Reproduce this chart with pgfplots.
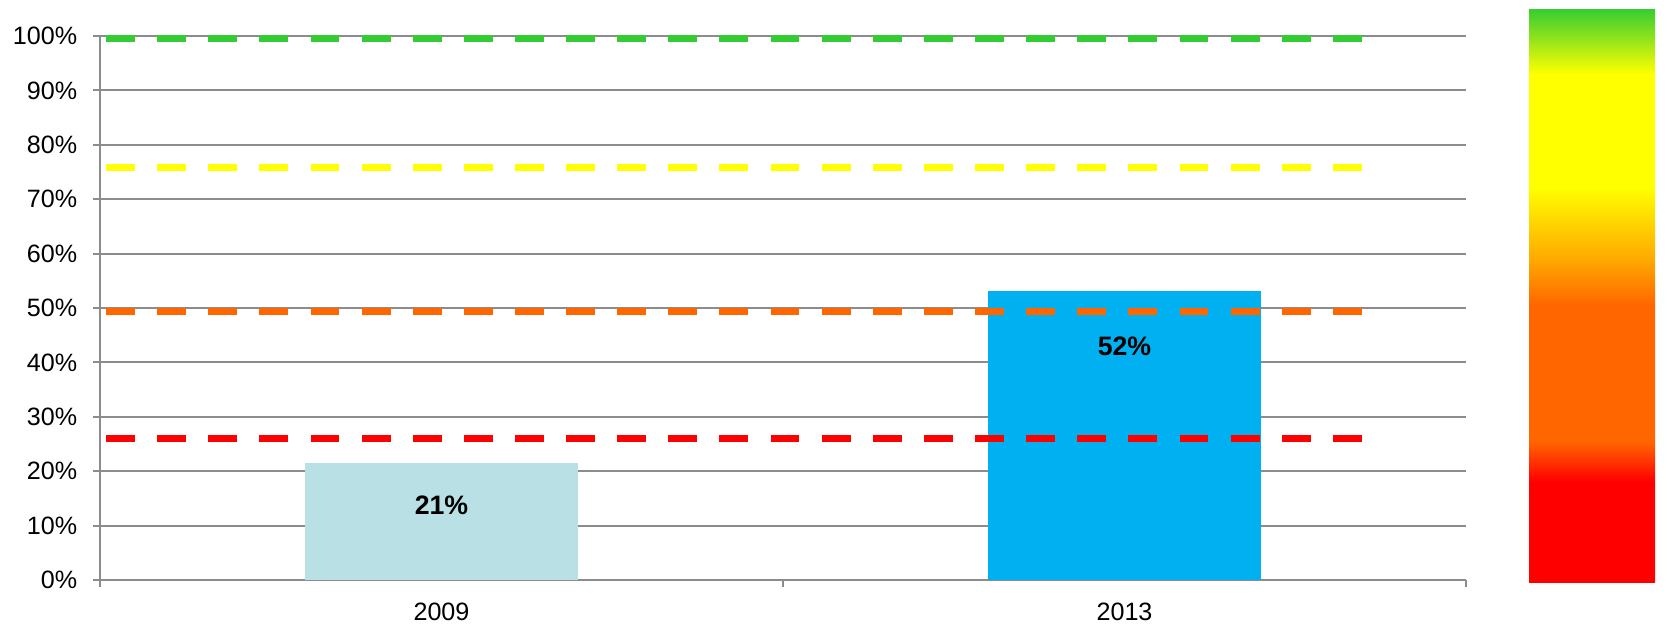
\documentclass[border=0pt]{standalone}
\usepackage{pgfplots}
\pgfplotsset{compat=1.18}
\usepackage{fontspec}
\setmainfont{Liberation Sans}
\definecolor{gridgray}{RGB}{140,140,140}
\definecolor{lgreen}{RGB}{51,204,51}
\definecolor{lyellow}{RGB}{255,255,0}
\definecolor{lorange}{RGB}{255,102,0}
\definecolor{lred}{RGB}{255,0,0}
\definecolor{barA}{RGB}{185,224,228}
\definecolor{barB}{RGB}{0,176,240}
\begin{document}
\begin{tikzpicture}
\begin{axis}[name=main,
  scale only axis, width=614.7pt, height=244.8pt,
  xmin=-0.5, xmax=1.5, ymin=0, ymax=100,
  clip=false,
  axis x line*=bottom, axis y line*=left,
  axis line style={gridgray, line width=0.9pt, -},
  ytick={0,10,...,100},
  yticklabels={0\%,10\%,20\%,30\%,40\%,50\%,60\%,70\%,80\%,90\%,100\%},
  ymajorgrids, grid style={gridgray, line width=0.9pt},
  xtick={-0.5,0.5,1.5}, xticklabels={},
  extra x ticks={0,1}, extra x tick labels={2009,2013},
  extra x tick style={tick style={draw=none}},
  tick align=outside, major tick length=3.15pt,
  tick style={gridgray, line width=0.9pt},
  tick label style={font=\fontsize{11.3}{13.5}\selectfont, black},
  yticklabel style={xshift=-3.6pt},
  xticklabel style={yshift=-3.6pt},
  colormap={traffic}{rgb255(0pt)=(255,0,0) rgb255(175pt)=(255,0,0) rgb255(245pt)=(255,102,0) rgb255(483pt)=(255,102,0) rgb255(560pt)=(255,168,0) rgb255(688pt)=(255,255,0) rgb255(885pt)=(255,255,0) rgb255(1000pt)=(51,204,51)},
  colorbar, point meta min=0, point meta max=100,
  colorbar/width=56.7pt,
  colorbar style={at={(parent axis.north east)}, anchor=north west,
    xshift=19.85pt, yshift=12.6pt, scale only axis, width=56.7pt, height=258.3pt,
    ytick=\empty, xtick=\empty, axis line style={draw=none}},
]
\addplot[ybar, bar width=0.4, bar shift=0pt, fill=barA, draw=none] coordinates {(0,21.5)};
\addplot[ybar, bar width=0.4, bar shift=0pt, fill=barB, draw=none] coordinates {(1,53.1)};
\addplot[lgreen, line width=3.15pt, dash pattern=on 13pt off 10pt] coordinates {(-0.491,99.5) (1.354,99.5)};
\addplot[lyellow, line width=3.15pt, dash pattern=on 13pt off 10pt] coordinates {(-0.491,75.9) (1.354,75.9)};
\addplot[lorange, line width=3.15pt, dash pattern=on 13pt off 10pt] coordinates {(-0.491,49.4) (1.354,49.4)};
\addplot[lred, line width=3.15pt, dash pattern=on 13pt off 10pt] coordinates {(-0.491,26.1) (1.354,26.1)};
\addplot[draw=none, mark=none, nodes near coords, point meta=explicit symbolic,
  every node near coord/.append style={anchor=center, font=\fontsize{12}{14}\selectfont\bfseries, black}]
  coordinates {(0,13.8)[21\%] (1,43.0)[52\%]};
\end{axis}
\pgfresetboundingbox
\path ([shift={(-45pt,-20.7pt)}]main.south west) rectangle ([shift={(90.45pt,16.2pt)}]main.north east);
\end{tikzpicture}
\end{document}
